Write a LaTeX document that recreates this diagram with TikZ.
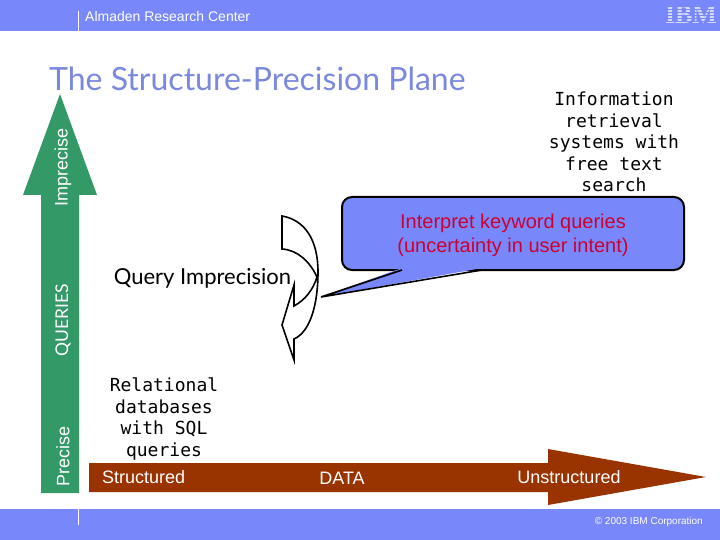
\documentclass[tikz,border=0pt]{standalone}
\usepackage{fontspec}
\setmainfont{Liberation Sans}
\newfontfamily\titlefont{Lato}
\newfontfamily\codefont{DejaVu Sans Mono}
\newfontfamily\logofont{Liberation Serif}
\usetikzlibrary{calc}
\definecolor{bar}{RGB}{120,136,250}
\definecolor{heading}{RGB}{122,136,222}
\definecolor{meadow}{RGB}{51,153,102}
\definecolor{rust}{RGB}{153,51,0}
\definecolor{alert}{RGB}{204,0,51}
\tikzset{
  band/.style={fill=bar,draw=none},
  code/.style={font=\fontsize{18}{21.6}\selectfont\codefont,align=center,inner sep=0pt},
  axis/.style={font=\fontsize{18}{20}\selectfont,text=white,inner sep=0pt},
  axisv/.style={axis,rotate=90},
  small/.style={text=white,inner sep=0pt},
}
\begin{document}
\begin{tikzpicture}[x=1pt,y=-1pt]
  \useasboundingbox (0,0) rectangle (720,540);
  % bars
  \fill[band] (0,0) rectangle (720,31);
  \fill[band] (0,509) rectangle (720,540);
  \draw[white] (78,11) -- (78,31);
  \draw[white] (78,505) -- (78,525);
  \node[small,anchor=west,font=\fontsize{14}{16}\selectfont] (center) at (85,16) {Almaden Research Center};
  \node[small,anchor=east,font=\fontsize{10}{12}\selectfont] (corp) at (703,522) {© 2003 IBM Corporation};
  \node[inner sep=0pt,text=white!70!bar,font=\fontsize{26}{28}\selectfont\logofont\bfseries] (logo) at (691,15) {IBM};
  \foreach \y in {6.5,9.5,...,24.5} \draw[bar,line width=.8pt] (662,\y) -- (719,\y);
  \node[anchor=west,inner sep=0pt,text=heading,font=\fontsize{32}{34}\selectfont\titlefont] (title) at (49,79) {The Structure-Precision Plane};
  % the two axes
  \fill[meadow] (60,94) -- (97,195) -- (79,195) -- (79,493) -- (41,493) -- (41,195) -- (23,195) -- cycle;
  \fill[rust] (89,463) -- (548,463) -- (548,449) -- (706,477) -- (548,505) -- (548,492) -- (89,492) -- cycle;
  \node[axisv] (imprecise) at (63,167) {Imprecise};
  \node[axisv,font=\fontsize{17.5}{20}\selectfont\titlefont] (queries) at (63,320) {QUERIES};
  \node[axisv] (precise) at (63,456) {Precise};
  \node[axis,anchor=west] (structured) at (102,477) {Structured};
  \node[axis] (data) at (342,478) {DATA};
  \node[axis] (unstructured) at (569,477) {Unstructured};
  % labels
  \node[code] (ir) at (614,142) {Information\\retrieval\\systems with\\free text\\search};
  \node[code] (rdb) at (164,419) {Relational\\databases\\with SQL\\queries};
  \node[inner sep=0pt,font=\fontsize{22}{24}\selectfont\titlefont] (impr) at (202.5,278.5) {Query Imprecision};
  % callout
  \draw[line width=2pt,fill=bar,rounded corners=10pt] (342,197) rectangle (684,270);
  \fill[bar] (402,268) -- (321,297) -- (482,268) -- cycle;
  \draw[line width=1.6pt] (402,270) -- (321,297) -- (482,270);
  \node[inner sep=0pt,align=center,text=alert,font=\fontsize{20}{24}\selectfont] (keyword) at (513,235) {Interpret keyword queries\\(uncertainty in user intent)};
  % double arrow
  \draw[line width=1.6pt,fill=white] (282,216) .. controls (305,220) and (318,240) .. (318,272)
    .. controls (318,305) and (310,332) .. (294,339) -- (294,360) -- (282,325) -- (294,285) -- (294,306)
    .. controls (305,300) and (313,290) .. (317,277) .. controls (310,262) and (298,250) .. (282,249) -- cycle;
\end{tikzpicture}
\end{document}
